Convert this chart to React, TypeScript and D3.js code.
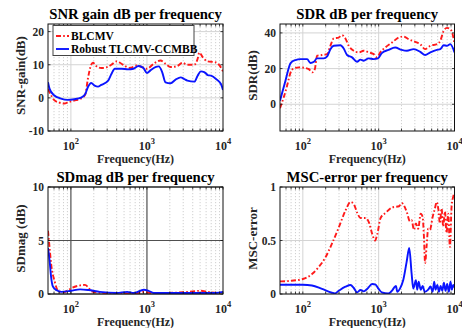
import React from "react";
import * as d3 from "d3";

// ---------- data ----------
const X_DOMAIN = [50, 10000];
const X_MAJOR = [100, 1000, 10000];
const X_MAJOR_EXP = ["2", "3", "4"];

const SNR_BL_F = [50,54,60,70,81,95,117,143,155,167,185,195,215,251,293,341,398,442,513,599,736,857,1000,1225,1508,1754,2043,2500,2920,3400,4200,4640,4880,5400,6300,7800,9000,10000];
const SNR_BL = [2.7,1.1,-0.6,-1.4,-1.7,-1.2,-0.7,0.1,1.1,5.7,10,10.6,9.6,9,9.2,10,11,10.6,9.6,9,9.8,9.3,8.8,10.3,11.3,10.3,9.3,9.6,10.6,10,10,11.8,13.7,12.3,11,10.8,9.8,8];
const SNR_RB_F = [50,52.5,60,74,90,111,136,154,167,185,205,227,251,309,341,378,463,568,663,772,900,1000,1110,1290,1430,1585,1754,2043,2380,2780,3090,3400,4200,4640,5120,5660,6300,6970,8100,9400,10000];
const SNR_RB = [4.7,2.7,0.8,-0.2,-0.6,-0.4,0.1,1.1,3.2,4.5,3.7,3.4,3.9,5.2,7.2,8.8,8.8,8.6,8.8,9.6,9.0,7.5,8.3,9.3,9.5,7.8,4.7,4.4,5.5,6.2,5.7,5.2,4.9,6.7,8.0,7.8,6.9,6.7,5.7,4.2,2.4];

const SDR_BL_F = [50,56,62,69,76,89,103,120,133,144,154,179,209,231,256,297,329,364,403,469,545,634,737,858,950,1050,1220,1500,1830,2130,2480,3030,3530,4100,4800,5860,6500,7200,7950,8800,9450,10000];
const SDR_BL = [-2.2,3.9,10.4,17.9,20.1,20.7,20.5,19.7,17.9,19.7,27.2,27.6,28.1,32.8,36.9,37.4,38.7,36.9,32.8,30,29.1,30,29.1,28.1,26.3,29.1,31.8,34.6,37.4,38,36.5,35,33.7,30.9,32.8,33.7,35.6,41.2,42.8,42.1,39.3,33.7];
const SDR_RB_F = [50,59,69,80,93,114,126,140,154,189,209,231,256,313,346,383,446,518,574,634,737,858,980,1100,1350,1650,2010,2360,2890,3530,4100,4800,5860,6500,7200,7950,8800,10000];
const SDR_RB = [2,13.2,23.1,24.8,25.3,25.3,23.1,23.8,25.7,25.7,26.8,30.9,32.8,33.1,31.3,27.6,26.3,23.8,25,24.4,25.7,25.3,25.7,28.7,30.5,31.8,30.5,30,30.9,29.4,27.6,29.1,30.5,30.9,33.1,32.8,33.7,29.1];

const SDM_BL_F = [50,52.5,55,61,68,79,92,102,132,153,170,188,240,400,700,910,1110,1860,3400,5100,6300,8600,10000];
const SDM_BL = [5.9,4.3,2.8,1.2,0.3,0.15,0.35,0.55,0.8,0.85,0.6,0.25,0.12,0.05,0.05,0.2,0.1,0.1,0.2,0.3,0.2,0.1,0.15];
const SDM_RB_F = [50,52.5,55,58,65,75,100,132,170,240,400,550,670,910,1050,1230,2000,5000,8000,10000];
const SDM_RB = [4.3,3.1,1.55,0.7,0.35,0.2,0.3,0.43,0.37,0.2,0.1,0.2,0.1,0.4,0.3,0.1,0.1,0.1,0.1,0.2];

const MSC_BL_F = [50,71,100,132,161,198,242,297,365,425,470,520,576,672,744,823,894,960,1060,1240,1520,1860,2010,2338,2585,2720,2920,3100,3320,3580,3800,3950,4100,4280,4500,4740,5150,5520,5820,6130,6420,6750,7100,7480,7860,8270,8700,9160,9620,10000];
const MSC_BL = [0.118,0.124,0.14,0.186,0.25,0.34,0.47,0.62,0.78,0.86,0.84,0.76,0.71,0.71,0.67,0.56,0.50,0.56,0.71,0.76,0.81,0.82,0.85,0.77,0.68,0.69,0.6,0.66,0.61,0.75,0.72,0.54,0.29,0.44,0.61,0.6,0.72,0.80,0.86,0.79,0.66,0.8,0.63,0.77,0.57,0.75,0.44,0.82,0.91,0.94];
const MSC_RB_F = [50,100,132,179,242,265,297,365,425,470,520,576,637,705,823,910,1000,1100,1340,1520,1600,1690,1760,1910,2110,2338,2530,2720,2860,3100,3220,3370,3580,3800,4060,4500,4830,5150,5400,5620,5940,6240,6560,6900,7250,7620,8010,8420,8860,9220,9620,10000];
const MSC_RB = [0.087,0.087,0.08,0.047,0.012,0.006,0.03,0.068,0.084,0.056,0.015,0.037,0.025,0.047,0.093,0.087,0.047,0.015,0.006,0.037,0.06,0.075,0.02,0.05,0.13,0.30,0.43,0.19,0.05,0.13,0.04,0.115,0.04,0.075,0.02,0.04,0.07,0.02,0.115,0.04,0.085,0.02,0.075,0.03,0.105,0.03,0.095,0.02,0.115,0.04,0.085,0.06];

const TITLES = ["SNR gain dB per frequency", "SDR dB per frequency", "SDmag dB per frequency", "MSC-error per frequency"];
const YLABELS = ["SNR-gain(dB)", "SDR(dB)", "SDmag (dB)", "MSC-error"];
const XLABEL = "Frequency(Hz)";
const Y_DOMAINS = [[-10, 22.3], [-15, 45], [0, 10], [0, 1]];
const Y_TICKS = [[-10, 0, 10, 20], [0, 20, 40], [0, 5, 10], [0, 0.5, 1]];
const Y_TICK_LABELS = [["-10", "0", "10", "20"], ["0", "20", "40"], ["0", "5", "10"], ["0", "0.5", "1"]];
const LEGEND = ["BLCMV", "Robust TLCMV-CCMBB"];

const zip = (f: number[], v: number[]) => f.slice(0, Math.min(f.length, v.length)).map((x, i) => [x, v[i]] as [number, number]);
const SERIES = [
  [zip(SNR_BL_F, SNR_BL), zip(SNR_RB_F, SNR_RB)],
  [zip(SDR_BL_F, SDR_BL), zip(SDR_RB_F, SDR_RB)],
  [zip(SDM_BL_F, SDM_BL), zip(SDM_RB_F, SDM_RB)],
  [zip(MSC_BL_F, MSC_BL), zip(MSC_RB_F, MSC_RB)],
];

// ---------- layout ----------
const W = 462, H = 328;
const FONT = "'Liberation Serif', 'Times New Roman', serif";
const BOXES = [
  { x0: 48, x1: 223, y0: 24, y1: 131 },
  { x0: 280, x1: 454.5, y0: 24, y1: 131 },
  { x0: 48, x1: 223, y0: 187, y1: 294 },
  { x0: 280, x1: 454.5, y0: 187, y1: 294 },
];
const RED = "#ff1a1a";
const BLUE = "#0a14ff";
const DASHDOT = "5,2.2,1.6,2.2";

function minorTicks(): number[] {
  const out: number[] = [];
  for (let p = 1; p <= 3; p++) for (let m = 2; m <= 9; m++) {
    const v = m * Math.pow(10, p);
    if (v > X_DOMAIN[0] && v < X_DOMAIN[1]) out.push(v);
  }
  return out;
}

function Panel({ idx }: { idx: number }) {
  const b = BOXES[idx];
  const x = d3.scaleLog().domain(X_DOMAIN).range([b.x0, b.x1]);
  const y = d3.scaleLinear().domain(Y_DOMAINS[idx]).range([b.y1, b.y0]);
  const line = d3.line<[number, number]>().x((d) => x(d[0])).y((d) => y(d[1])).curve(d3.curveMonotoneX);
  const minors = minorTicks();
  const dark = idx === 2;
  const majorGrid = dark ? "#505050" : "#d4d4d4";
  const clipId = `clip${idx}`;
  const cx = (b.x0 + b.x1) / 2;
  const cy = (b.y0 + b.y1) / 2;
  const tl = 2.5;
  return (
    <g>
      <defs>
        <clipPath id={clipId}>
          <rect x={b.x0} y={b.y0} width={b.x1 - b.x0} height={b.y1 - b.y0} />
        </clipPath>
      </defs>
      <rect x={b.x0} y={b.y0} width={b.x1 - b.x0} height={b.y1 - b.y0} fill="#fff" />
      {minors.map((v) => (
        <line key={"mg" + v} x1={x(v)} x2={x(v)} y1={b.y0} y2={b.y1} stroke="#c4c4c4" strokeWidth={0.8} strokeDasharray="1.2,1.8" />
      ))}
      {X_MAJOR.slice(0, 2).map((v) => (
        <line key={"Mg" + v} x1={x(v)} x2={x(v)} y1={b.y0} y2={b.y1} stroke={majorGrid} strokeWidth={dark ? 1.2 : 1} />
      ))}
      {Y_TICKS[idx].map((t) => (
        <line key={"yg" + t} x1={b.x0} x2={b.x1} y1={y(t)} y2={y(t)} stroke={majorGrid} strokeWidth={dark ? 1.2 : 1} />
      ))}
      <g clipPath={`url(#${clipId})`}>
        <path d={line(SERIES[idx][0]) || ""} fill="none" stroke={RED} strokeWidth={1.9} strokeDasharray={DASHDOT} />
        <path d={line(SERIES[idx][1]) || ""} fill="none" stroke={BLUE} strokeWidth={1.9} />
      </g>
      <rect x={b.x0} y={b.y0} width={b.x1 - b.x0} height={b.y1 - b.y0} fill="none" stroke="#111" strokeWidth={1} />
      {[...minors, ...X_MAJOR].map((v) => (
        <g key={"xt" + v}>
          <line x1={x(v)} x2={x(v)} y1={b.y1} y2={b.y1 - tl} stroke="#111" strokeWidth={0.8} />
          <line x1={x(v)} x2={x(v)} y1={b.y0} y2={b.y0 + tl} stroke="#111" strokeWidth={0.8} />
        </g>
      ))}
      {Y_TICKS[idx].map((t) => (
        <g key={"yt" + t}>
          <line x1={b.x0} x2={b.x0 + tl} y1={y(t)} y2={y(t)} stroke="#111" strokeWidth={0.8} />
          <line x1={b.x1} x2={b.x1 - tl} y1={y(t)} y2={y(t)} stroke="#111" strokeWidth={0.8} />
        </g>
      ))}
      {Y_TICKS[idx].map((t, i) => (
        <text key={"yl" + t} x={b.x0 - 4} y={y(t) + 4} textAnchor="end" fontSize={11.5} fontWeight="bold" fill="#262626">
          {Y_TICK_LABELS[idx][i]}
        </text>
      ))}
      {X_MAJOR.map((v, i) => (
        <text key={"xl" + v} x={x(v)} y={b.y1 + 18.5} textAnchor="middle" fontSize={12} fontWeight="bold" fill="#262626">
          <tspan>10</tspan>
          <tspan dy={-5.5} fontSize={8.5}>{X_MAJOR_EXP[i]}</tspan>
        </text>
      ))}
      <text x={cx} y={b.y1 + 31.5} textAnchor="middle" fontSize={12} fontWeight="bold" fill="#262626">{XLABEL}</text>
      <text transform={`translate(${b.x0 - 23.5},${cy - 2}) rotate(-90)`} textAnchor="middle" fontSize={13} fontWeight="bold" fill="#262626">
        {YLABELS[idx]}
      </text>
      <text x={cx} y={b.y0 - 5.5} textAnchor="middle" fontSize={14.7} fontWeight="bold" fill="#000">{TITLES[idx]}</text>
    </g>
  );
}

function Legend() {
  const lx = 53, ly = 25.5, lw = 141, lh = 30;
  const rows = [ly + 10.5, ly + 23.5];
  return (
    <g>
      <rect x={lx} y={ly} width={lw} height={lh} fill="#fff" stroke="#444" strokeWidth={1} />
      {LEGEND.map((name, i) => (
        <g key={name}>
          <line x1={lx + 3} x2={lx + 16} y1={rows[i]} y2={rows[i]} stroke={i === 0 ? RED : BLUE} strokeWidth={1.9} strokeDasharray={i === 0 ? DASHDOT : undefined} />
          <text x={lx + 18} y={rows[i] + 4} fontSize={11.5} fontWeight="bold" fill="#000">{name}</text>
        </g>
      ))}
    </g>
  );
}

export default function App() {
  return (
    <svg width={W} height={H} viewBox={`0 0 ${W} ${H}`} style={{ position: "absolute", left: 0, top: 0, background: "#fff" }} fontFamily={FONT}>
      <rect width={W} height={H} fill="#fff" />
      {[0, 1, 2, 3].map((i) => <Panel key={i} idx={i} />)}
      <Legend />
    </svg>
  );
}
